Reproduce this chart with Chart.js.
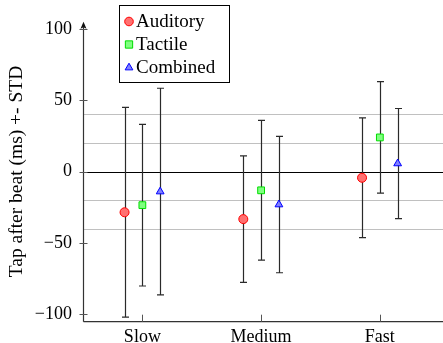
<!DOCTYPE html>
<html><head><meta charset="utf-8">
<script src="https://cdn.jsdelivr.net/npm/chart.js@4.4.1/dist/chart.umd.min.js"></script>
<style>html,body{margin:0;padding:0;background:#fff}#wrap{width:443px;height:343px}</style>
</head><body><div id="wrap"><canvas id="c" width="443" height="343"></canvas></div>
<script>
const categories = ['Slow', 'Medium', 'Fast'];
const seriesNames = ['Auditory', 'Tactile', 'Combined'];
const auditoryMean = [-28.6, -33.4, -4.4];
const auditoryStd = [73.6, 44.4, 42.0];
const tactileMean = [-23.6, -13.2, 23.9];
const tactileStd = [56.7, 49.0, 39.1];
const combinedMean = [-14.1, -23.2, 5.6];
const combinedStd = [72.5, 47.8, 38.6];
const yTickValues = [-100, -50, 0, 50, 100];
const gridValues = [-40, -20, 20, 40];
const yLabel = 'Tap after beat (ms) +- STD';

const FONT = 'Liberation Serif';
const seriesStyle = [
  {style: 'circle', fill: '#ff7070', stroke: '#ff0000', off: -0.15},
  {style: 'rect', fill: '#80ff80', stroke: '#00dd00', off: 0},
  {style: 'triangle', fill: '#8080ff', stroke: '#0000ff', off: 0.15}
];
const means = [auditoryMean, tactileMean, combinedMean];
const stds = [auditoryStd, tactileStd, combinedStd];

function marker(ctx, style, x, y, r, fill, stroke) {
  ctx.save();
  ctx.fillStyle = fill; ctx.strokeStyle = stroke; ctx.lineWidth = 1;
  ctx.beginPath();
  if (style === 'circle') ctx.arc(x, y, r, 0, Math.PI * 2);
  else if (style === 'rect') ctx.rect(x - r * 0.85, y - r * 0.85, r * 1.7, r * 1.7);
  else { ctx.moveTo(x, y - r); ctx.lineTo(x + r * 0.9, y + r * 0.55); ctx.lineTo(x - r * 0.9, y + r * 0.55); ctx.closePath(); }
  ctx.fill(); ctx.stroke();
  ctx.restore();
}

const decor = {
  id: 'decor',
  beforeDatasetsDraw(chart) {
    const {ctx, chartArea: a, scales: {x, y}} = chart;
    const W = chart.width;
    ctx.save();
    ctx.strokeStyle = '#c0c0c0'; ctx.lineWidth = 1;
    gridValues.forEach(v => {
      const py = Math.round(y.getPixelForValue(v)) + 0.5;
      ctx.beginPath(); ctx.moveTo(a.left, py); ctx.lineTo(W, py); ctx.stroke();
    });
    ctx.strokeStyle = '#000';
    const pz = Math.round(y.getPixelForValue(0)) + 0.5;
    ctx.beginPath(); ctx.moveTo(a.left, pz); ctx.lineTo(W, pz); ctx.stroke();
    ctx.strokeStyle = '#333'; ctx.lineWidth = 1.2;
    const ax = a.left + 0.5, by = a.bottom + 0.5;
    ctx.beginPath(); ctx.moveTo(ax, by); ctx.lineTo(W, by); ctx.stroke();
    ctx.beginPath(); ctx.moveTo(ax, by); ctx.lineTo(ax, a.top + 2); ctx.stroke();
    ctx.fillStyle = '#111';
    ctx.beginPath(); ctx.moveTo(ax, a.top); ctx.lineTo(ax + 3, a.top + 7); ctx.lineTo(ax, a.top + 5.5); ctx.lineTo(ax - 3, a.top + 7); ctx.closePath(); ctx.fill();
    ctx.strokeStyle = '#555'; ctx.lineWidth = 1;
    yTickValues.forEach(v => {
      const py = Math.round(y.getPixelForValue(v)) + 0.5;
      ctx.beginPath(); ctx.moveTo(ax - 4, py); ctx.lineTo(ax + 4, py); ctx.stroke();
    });
    categories.forEach((c, i) => {
      const px = Math.round(x.getPixelForValue(i)) + 0.5;
      ctx.beginPath(); ctx.moveTo(px, by); ctx.lineTo(px, by - 7); ctx.stroke();
    });
    ctx.strokeStyle = '#2a2a2a'; ctx.lineWidth = 1.2;
    means.forEach((m, s) => {
      m.forEach((v, i) => {
        const px = Math.round(x.getPixelForValue(i + seriesStyle[s].off)) + 0.5;
        const top = y.getPixelForValue(v + stds[s][i]);
        const bot = y.getPixelForValue(v - stds[s][i]);
        ctx.beginPath();
        ctx.moveTo(px, top); ctx.lineTo(px, bot);
        ctx.moveTo(px - 3.5, top); ctx.lineTo(px + 3.5, top);
        ctx.moveTo(px - 3.5, bot); ctx.lineTo(px + 3.5, bot);
        ctx.stroke();
      });
    });
    ctx.restore();
  },
  afterDraw(chart) {
    const {ctx} = chart;
    ctx.save();
    ctx.fillStyle = '#fff'; ctx.strokeStyle = '#000'; ctx.lineWidth = 1;
    ctx.fillRect(119.5, 5.5, 110, 77); ctx.strokeRect(119.5, 5.5, 110, 77);
    ctx.font = '19px "' + FONT + '"';
    ctx.textBaseline = 'alphabetic';
    chart.data.datasets.forEach((ds, i) => {
      const st = seriesStyle[i];
      const cy = 21.5 + i * 23;
      marker(ctx, st.style, 129, cy, 4.3, st.fill, st.stroke);
      ctx.fillStyle = '#000';
      ctx.fillText(ds.label, 136, 27 + i * 23);
    });
    ctx.restore();
  }
};

const datasets = seriesNames.map((name, s) => ({
  label: name,
  data: means[s].map((v, i) => ({x: i + seriesStyle[s].off, y: v})),
  pointStyle: seriesStyle[s].style,
  pointRadius: seriesStyle[s].style === 'rect' ? 4.8 : 4.5,
  pointHoverRadius: 4.5,
  backgroundColor: seriesStyle[s].fill,
  borderColor: seriesStyle[s].stroke,
  borderWidth: 1,
  showLine: false
}));

new Chart(document.getElementById('c'), {
  type: 'scatter',
  data: {datasets},
  options: {
    responsive: false,
    animation: false,
    devicePixelRatio: 1,
    events: [],
    layout: {padding: {top: 21, left: 0, right: 0, bottom: 0}},
    plugins: {legend: {display: false}, tooltip: {enabled: false}},
    scales: {
      x: {
        type: 'linear', min: -0.5, max: 2.483,
        afterBuildTicks: s => { s.ticks = categories.map((c, i) => ({value: i})); },
        afterFit: s => { s.height = 21; },
        grid: {display: false, drawTicks: false}, border: {display: false},
        ticks: {callback: v => categories[v], color: '#000', padding: 5, maxRotation: 0, autoSkip: false,
                font: {family: FONT, size: 18}}
      },
      y: {
        min: -105, max: 105,
        afterBuildTicks: s => { s.ticks = yTickValues.map(v => ({value: v})); },
        afterFit: s => { s.width = 83; },
        grid: {display: false, drawTicks: false}, border: {display: false},
        ticks: {callback: v => v < 0 ? '\u2212' + Math.abs(v) : String(v), color: '#000', padding: 11,
                font: {family: FONT, size: 18}},
        title: {display: true, text: yLabel, color: '#000', padding: {top: 5.5, bottom: 0},
                font: {family: FONT, size: 19.5}}
      }
    }
  },
  plugins: [decor]
});
</script>
</body></html>
